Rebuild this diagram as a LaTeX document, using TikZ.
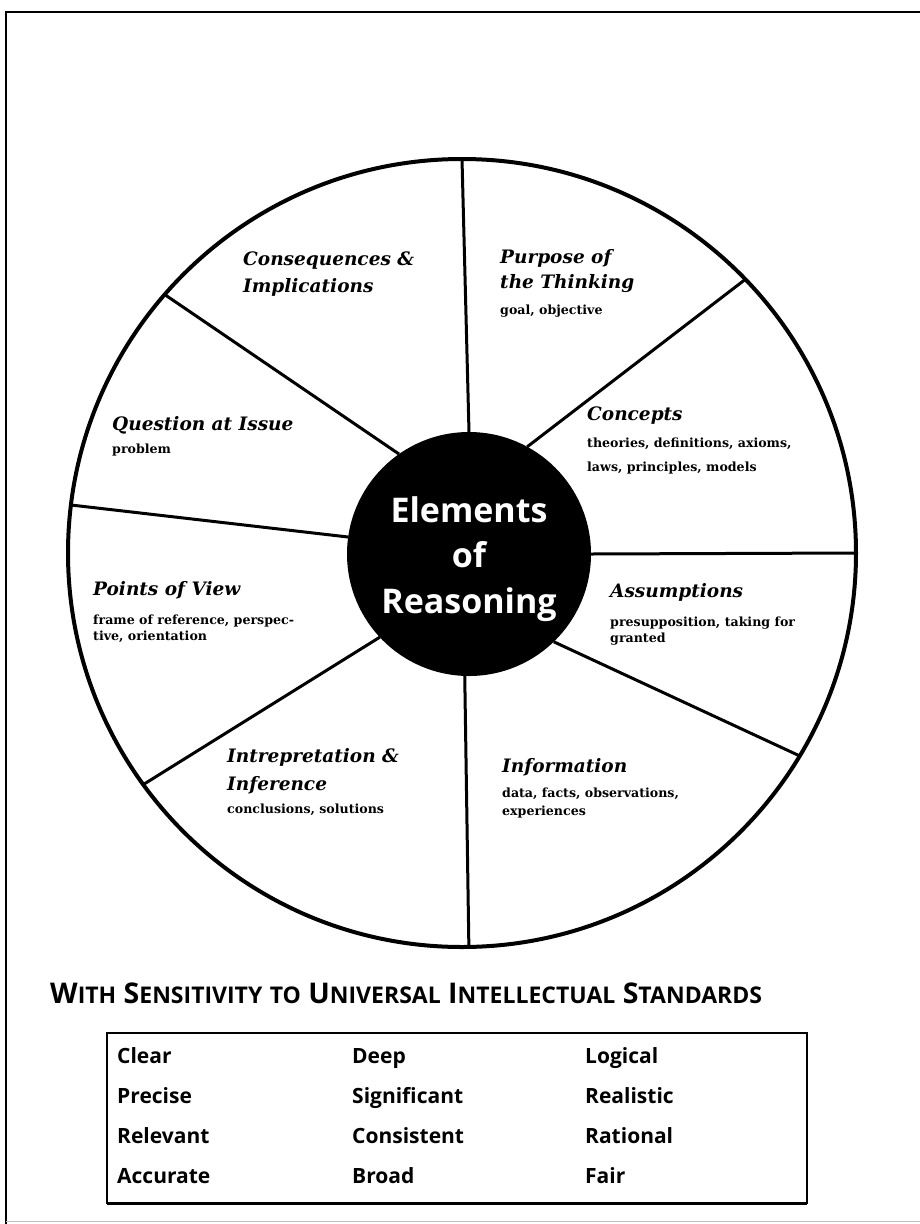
\documentclass[tikz,border=0pt]{standalone}
\usepackage{fontspec}
\usetikzlibrary{calc}
\setmainfont{DejaVu Serif}
\newfontfamily\headfont{DejaVu Serif}
\newfontfamily\subfont{DejaVu Serif}
\newfontfamily\centerfont{Open Sans}
\newfontfamily\stdfont{Open Sans}
\newcommand\mysc[2]{{\fontsize{28.5}{28.5}\selectfont #1}{\fontsize{23}{23}\selectfont #2}}
\begin{document}
\begin{tikzpicture}[x=1pt,y=-1pt,
  spoke/.style={line width=3pt},
  head/.style={anchor=base west, inner sep=0pt, font=\headfont\bfseries\itshape\fontsize{18.5}{18.5}\selectfont},
  sub/.style={anchor=base west, inner sep=0pt, font=\subfont\bfseries\fontsize{12.6}{12.6}\selectfont},
  ctr/.style={anchor=base, inner sep=0pt, text=white, font=\centerfont\bfseries\fontsize{34}{34}\selectfont},
  std/.style={anchor=base west, inner sep=0pt, font=\stdfont\bfseries\fontsize{21}{21}\selectfont}]
\useasboundingbox (0,0) rectangle (920,1224);
% frame
\coordinate (ftl) at (6,12);
\coordinate (ftr) at (920,12);
\coordinate (fbl) at (6,1224);
\draw[line width=2.5pt] (ftr) -- (ftl) -- (fbl);
\coordinate (bl) at (6,1221);
\coordinate (br) at (920,1221);
\draw[line width=1pt, black!25] (bl) -- (br);
% wheel
\node[circle, draw, line width=4pt, minimum size=788pt, inner sep=0pt, outer sep=0pt] (outer) at (462,553) {};
\draw[spoke] (outer.90) -- (469,432);
\draw[spoke] (outer.44.6) -- ($(469,554)+(-61.5:122)$);
\draw[spoke] (outer.0) -- (591,554);
\draw[spoke] (outer.-31.9) -- ($(469,554)+(46:122)$);
\draw[spoke] (outer.-89.7) -- ($(469,554)+(92:122)$);
\draw[spoke] (outer.-144.1) -- ($(469,554)+(137:122)$);
\draw[spoke] (outer.173.4) -- ($(469,554)+(-172:122)$);
\draw[spoke] (outer.139.5) -- ($(469,554)+(-125:122)$);
\node[circle, fill=black, minimum size=244pt, inner sep=0pt, outer sep=0pt] (inner) at (469,554) {};
\node[ctr] (c1) at (469,522) {Elements};
\node[ctr] (c2) at (469,567) {of};
\node[ctr] (c3) at (469,613) {Reasoning};
% labels
\node[head] (cons1) at (243,265) {Consequences \&};
\node[head] (cons2) at (243,292) {Implications};
\node[head] (purp1) at (500,263) {Purpose of};
\node[head] (purp2) at (500,288) {the Thinking};
\node[sub] (purp3) at (500,314) {goal, objective};
\node[head] (conc1) at (587,420) {Concepts};
\node[sub] (conc2) at (587,447) {theories, definitions, axioms,};
\node[sub] (conc3) at (587,471) {laws, principles, models};
\node[head] (ques1) at (112,430) {Question at Issue};
\node[sub] (ques2) at (112,453) {problem};
\node[head] (pov1) at (93,595) {Points of View};
\node[sub] (pov2) at (93,624) {frame of reference, perspec-};
\node[sub] (pov3) at (93,640) {tive, orientation};
\node[head] (assu1) at (610,597) {Assumptions};
\node[sub] (assu2) at (610,626) {presupposition, taking for};
\node[sub] (assu3) at (610,642) {granted};
\node[head] (intr1) at (227,762) {Intrepretation \&};
\node[head] (intr2) at (227,790) {Inference};
\node[sub] (intr3) at (227,813) {conclusions, solutions};
\node[head] (info1) at (502,772) {Information};
\node[sub] (info2) at (502,797) {data, facts, observations,};
\node[sub] (info3) at (502,815) {experiences};
% standards
\node[anchor=base west, inner sep=0pt, font=\stdfont\bfseries\fontsize{28.5}{28.5}\selectfont] (title) at (50,1003)
  {\mysc{W}{ITH} \mysc{S}{ENSITIVITY} \mysc{}{TO} \mysc{U}{NIVERSAL} \mysc{I}{NTELLECTUAL} \mysc{S}{TANDARDS}};
\node[draw, line width=1.5pt, minimum width=700pt, minimum height=170pt, inner sep=0pt, outer sep=0pt] (stdbox) at (457,1118) {};
\draw[line width=3pt] (stdbox.south west) -- (stdbox.south east);
\node[std] (s11) at (117,1063) {Clear};
\node[std] (s12) at (352,1063) {Deep};
\node[std] (s13) at (585,1063) {Logical};
\node[std] (s21) at (117,1103) {Precise};
\node[std] (s22) at (352,1103) {Significant};
\node[std] (s23) at (585,1103) {Realistic};
\node[std] (s31) at (117,1143) {Relevant};
\node[std] (s32) at (352,1143) {Consistent};
\node[std] (s33) at (585,1143) {Rational};
\node[std] (s41) at (117,1183) {Accurate};
\node[std] (s42) at (352,1183) {Broad};
\node[std] (s43) at (585,1183) {Fair};
\end{tikzpicture}
\end{document}
